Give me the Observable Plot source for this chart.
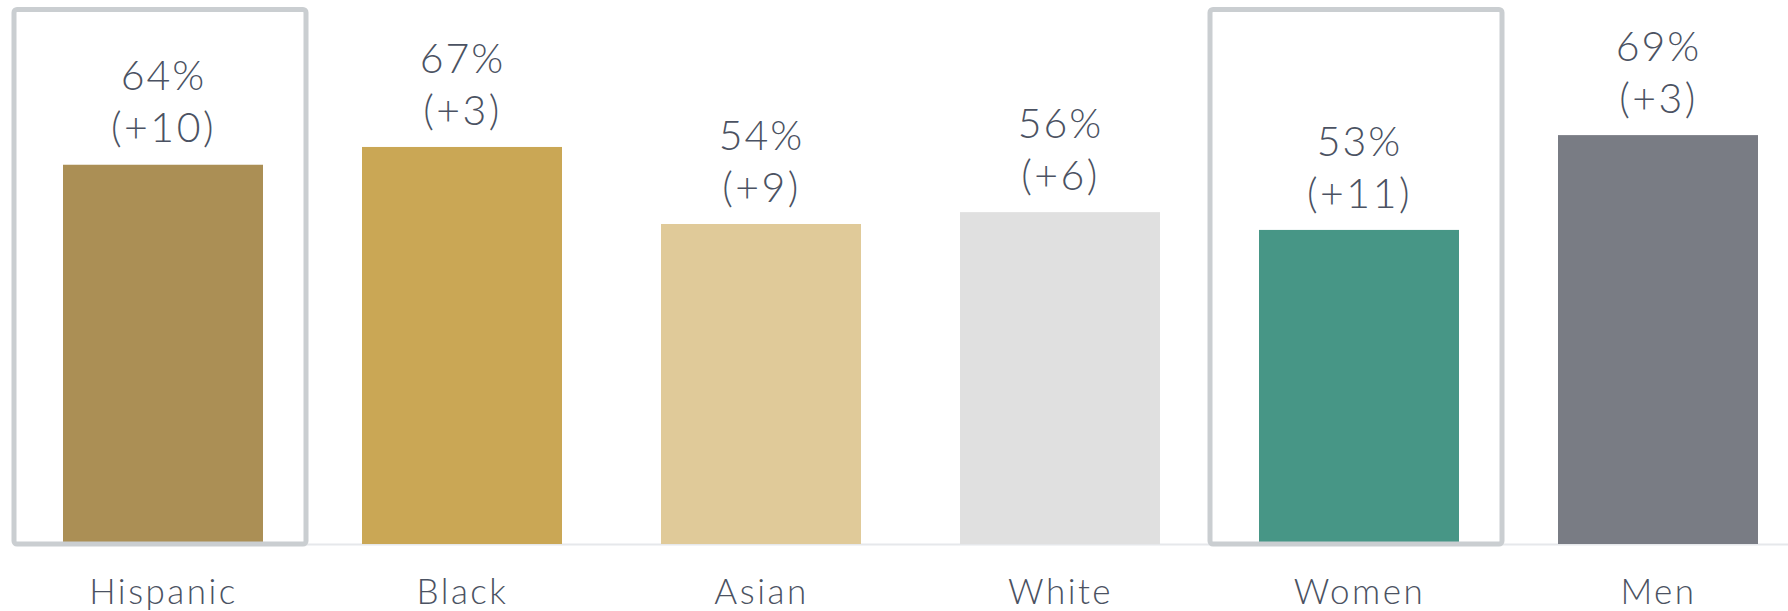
<!DOCTYPE html>
<html>
<head>
<meta charset="utf-8">
<script src="https://cdn.jsdelivr.net/npm/d3@7"></script>
<script src="https://cdn.jsdelivr.net/npm/@observablehq/plot@0.6"></script>
<style>
  html, body { margin: 0; padding: 0; background: #fff; }
  #chart { width: 1788px; height: 611px; }
</style>
</head>
<body>
<div id="chart"></div>
<script>
const categories = ["Hispanic", "Black", "Asian", "White", "Women", "Men"];
const shares = [64, 67, 54, 56, 53, 69];
const changes = ["+10", "+3", "+9", "+6", "+11", "+3"];
const colors = ["#ab8f55", "#caa755", "#e0ca99", "#e0e0e0", "#479686", "#797c84"];
const highlighted = ["Hispanic", "Women"];

const rows = categories.map((c, i) => ({
  category: c,
  share: shares[i],
  pct: `${shares[i]}%`,
  change: `(${changes[i]})`,
  color: colors[i]
}));
const boxes = rows.filter(d => highlighted.includes(d.category));

const textColor = "#4b5262";

const svg = Plot.plot({
  width: 1788,
  height: 611,
  marginLeft: 32,
  marginRight: 0,
  marginTop: 0,
  marginBottom: 67,
  style: { fontFamily: "Lato", background: "#fff" },
  x: { domain: categories, paddingInner: 0.332, paddingOuter: 0.1, axis: null },
  y: { domain: [0, 91.8], axis: null },
  marks: [
    Plot.ruleY([0], { stroke: "#e6e8eb", strokeWidth: 2 }),
    Plot.barY(rows, { x: "category", y: "share", fill: "color" }),
    Plot.barY(boxes, {
      x: "category", y1: 0, y2: 90.2,
      fill: "none", stroke: "#caced1", strokeWidth: 5,
      insetLeft: -49, insetRight: -43, rx: 3
    }),
    Plot.text(rows, { x: "category", y: "share", text: "pct", fill: textColor, fontSize: 41, fontWeight: 300, dy: -88 }),
    Plot.text(rows, { x: "category", y: "share", text: "change", fill: textColor, fontSize: 41, fontWeight: 300, dy: -36 }),
    Plot.text(rows, { x: "category", text: "category", frameAnchor: "bottom", fill: textColor, fontSize: 35, fontWeight: 300, dy: 59 })
  ]
});

document.getElementById("chart").appendChild(svg);
const groups = svg.querySelectorAll('g[aria-label="text"]');
if (groups.length >= 3) {
  groups[0].style.letterSpacing = "2px";
  groups[1].style.letterSpacing = "2.5px";
  groups[2].style.letterSpacing = "2.5px";
}
</script>
</body>
</html>
